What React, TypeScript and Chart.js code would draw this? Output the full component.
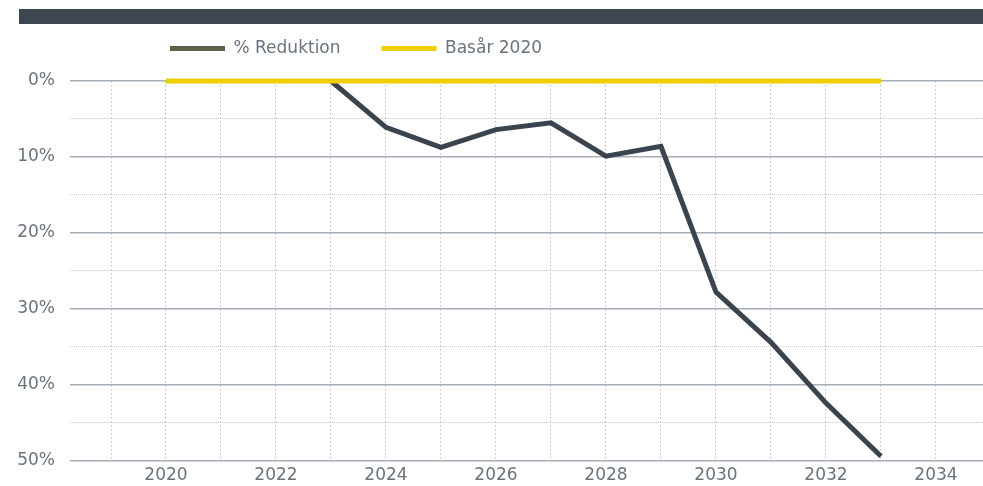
import React, { useEffect, useRef } from "react";
import { Chart, registerables } from "chart.js";

Chart.register(...registerables);

// ---- data ----
const reductionYears = [2023, 2024, 2025, 2026, 2027, 2028, 2029, 2030, 2031, 2032, 2033];
const reductionValues = [0, 6.1, 8.75, 6.4, 5.5, 9.9, 8.6, 27.8, 34.4, 42.4, 49.4];
const baseYears = [2020, 2021, 2022, 2023, 2024, 2025, 2026, 2027, 2028, 2029, 2030, 2031, 2032, 2033];
const baseValues = [0, 0, 0, 0, 0, 0, 0, 0, 0, 0, 0, 0, 0, 0];
const gridYears = [2019, 2020, 2021, 2022, 2023, 2024, 2025, 2026, 2027, 2028, 2029, 2030, 2031, 2032, 2033, 2034];
const yTickValues = [0, 5, 10, 15, 20, 25, 30, 35, 40, 45, 50];
const seriesNames = ["% Reduktion", "Basår 2020"];

// ---- style ----
const FONT = "'DejaVu Sans', 'Liberation Sans', sans-serif";
const TEXT = "#6a737c";
const DARK = "#3a444e";
const OLIVE = "#5b6449";
const YELLOW = "#efcf00";

const legendShift = {
  id: "legendShift",
  afterLayout(chart: any) {
    const lg = chart.legend;
    if (!lg) return;
    const dx = 129;
    const dy = -14;
    lg.left += dx;
    lg.right += dx;
    lg.top += dy;
    lg.bottom += dy;
  },
};

export default function App() {
  const ref = useRef<HTMLCanvasElement | null>(null);

  useEffect(() => {
    if (!ref.current) return;
    const chart = new Chart(ref.current, {
      type: "line",
      data: {
        datasets: [
          {
            label: seriesNames[0],
            data: reductionYears.map((x, i) => ({ x, y: reductionValues[i] })),
            borderColor: DARK,
            backgroundColor: OLIVE,
            borderWidth: 5,
            pointRadius: 0,
            tension: 0,
            clip: false,
            order: 1,
          },
          {
            label: seriesNames[1],
            data: baseYears.map((x, i) => ({ x, y: baseValues[i] })),
            borderColor: YELLOW,
            backgroundColor: YELLOW,
            borderWidth: 5,
            pointRadius: 0,
            tension: 0,
            clip: false,
            order: 0,
          },
        ],
      },
      options: {
        responsive: false,
        animation: false,
        layout: { padding: { top: 13, right: 0, bottom: 0, left: 0 } },
        plugins: {
          tooltip: { enabled: false },
          legend: {
            position: "top",
            align: "start",
            labels: {
              boxWidth: 55,
              boxHeight: 5,
              padding: 41,
              color: TEXT,
              font: { family: FONT, size: 17 },
              generateLabels: () => [
                { text: seriesNames[0], fillStyle: OLIVE, strokeStyle: OLIVE, lineWidth: 0, fontColor: TEXT, datasetIndex: 0, hidden: false },
                { text: seriesNames[1], fillStyle: YELLOW, strokeStyle: YELLOW, lineWidth: 0, fontColor: TEXT, datasetIndex: 1, hidden: false },
              ],
            },
          },
        },
        scales: {
          x: {
            type: "linear",
            min: 2018.2545,
            max: 2034.855,
            afterBuildTicks: (scale: any) => {
              scale.ticks = gridYears.map((v) => ({ value: v }));
            },
            afterFit: (scale: any) => {
              scale.height = 24;
            },
            ticks: {
              autoSkip: false,
              maxRotation: 0,
              padding: 5,
              color: TEXT,
              font: { family: FONT, size: 17 },
              callback: (v: any) => (Number(v) % 2 === 0 ? String(v) : ""),
            },
            grid: {
              color: "#b8bec6",
              lineWidth: 1,
              drawTicks: false,
            },
            border: { display: false, dash: [1.5, 2.5] },
          },
          y: {
            type: "linear",
            reverse: true,
            min: 0,
            max: 50,
            afterBuildTicks: (scale: any) => {
              scale.ticks = yTickValues.map((v) => ({ value: v }));
            },
            afterFit: (scale: any) => {
              scale.width = 70;
            },
            ticks: {
              padding: 15,
              color: TEXT,
              font: { family: FONT, size: 17 },
              callback: (v: any) => (Number(v) % 10 === 0 ? `${v}%` : ""),
            },
            grid: {
              drawTicks: false,
              color: (ctx: any) => (ctx.tick && ctx.tick.value % 10 === 0 ? "#a7afb8" : "#c6cbd2"),
              lineWidth: (ctx: any) => (ctx.tick && ctx.tick.value % 10 === 0 ? 1.5 : 1),
            },
            border: {
              display: false,
              dash: (ctx: any) => (ctx.tick && ctx.tick.value % 10 !== 0 ? [1, 1] : []),
            },
          },
        },
      } as any,
      plugins: [legendShift],
    });
    return () => chart.destroy();
  }, []);

  return (
    <>
      <canvas
        ref={ref}
        width={983}
        height={486}
        style={{ position: "absolute", left: 0, top: 0, width: 983, height: 486, display: "block" }}
      />
      <div
        style={{
          position: "absolute",
          left: 19,
          top: 9,
          width: 964,
          height: 15,
          background: "#3d4651",
        }}
      />
    </>
  );
}
